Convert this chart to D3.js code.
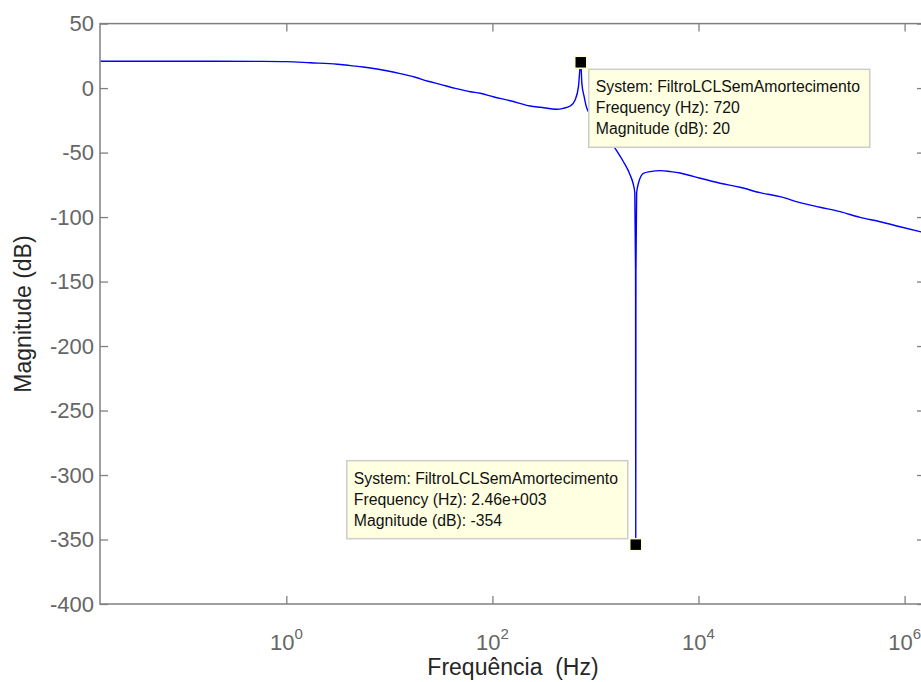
<!DOCTYPE html>
<html>
<head>
<meta charset="utf-8">
<script src="https://cdn.jsdelivr.net/npm/d3@7/dist/d3.min.js"></script>
<style>
  html, body { margin: 0; padding: 0; background: #ffffff; }
  svg { display: block; }
  text { font-family: "Liberation Sans", Arial, sans-serif; }
</style>
</head>
<body>
<svg id="chart" width="921" height="682"></svg>
<script>
// ---- data ----
const freqHz = [0.0157, 0.05, 0.2, 0.6, 1.0, 1.71, 3.12, 4.18, 5.58, 7.30, 9.13, 12.76, 17.8, 23.8, 31.2, 43.6, 60.9, 76.2, 101.8, 148.8, 232.6, 290.8, 425, 486, 568, 635, 684, 720, 738, 777, 825, 1111, 1553, 1869, 2171, 2337, 2410, 2450, 2460, 2470, 2510, 2613, 2921, 3393, 4241, 5303, 6630, 8287, 10363, 16200, 25320, 39590, 61880, 96720, 151200, 236300, 369400, 577400, 902500, 1411000, 1780000];
const magDb = [20.8, 20.8, 20.8, 20.7, 20.5, 19.6, 18.5, 17.4, 16.4, 15.0, 13.6, 11.2, 8.4, 5.3, 2.9, -0.2, -2.8, -4.0, -6.7, -9.8, -13.9, -14.9, -16.4, -15.7, -13.9, -9.2, 1.1, 20, 3.7, -6.7, -15.7, -29.4, -46.7, -57.1, -67.4, -75.1, -81.3, -143, -354, -143, -81.3, -73.8, -66.1, -64.8, -64.0, -64.7, -65.8, -67.8, -69.9, -73.8, -76.9, -81.1, -84.2, -88.8, -92.4, -95.8, -100.2, -103.6, -107.5, -111.3, -113.2];
const yTicks = [50, 0, -50, -100, -150, -200, -250, -300, -350, -400];
const xTickExp = [0, 2, 4, 6];
const xDomain = [Math.pow(10, -1.808), Math.pow(10, 6.198)];
const yDomain = [-400, 50];
const dataTips = [
  { f: 720, m: 20, lines: ["System: FiltroLCLSemAmortecimento", "Frequency (Hz): 720", "Magnitude (dB): 20"], box: "right" },
  { f: 2460, m: -354, lines: ["System: FiltroLCLSemAmortecimento", "Frequency (Hz): 2.46e+003", "Magnitude (dB): -354"], box: "left" }
];
const xLabel = "Frequência  (Hz)";
const yLabel = "Magnitude (dB)";

// ---- layout ----
const L = 100, R = 925, T = 23.6, B = 604;
const axisColor = "#808080";
const svg = d3.select("#chart");

const x = d3.scaleLog().domain(xDomain).range([L, R]);
const y = d3.scaleLinear().domain(yDomain).range([B, T]);

svg.append("defs").append("clipPath").attr("id", "plotclip")
  .append("rect").attr("x", L).attr("y", T).attr("width", R - L).attr("height", B - T);

// curve
const data = freqHz.map((f, i) => ({ f, m: magDb[i] }));
svg.append("path")
  .datum(data)
  .attr("clip-path", "url(#plotclip)")
  .attr("fill", "none")
  .attr("stroke", "#0000ff")
  .attr("stroke-width", 1.4)
  .attr("d", d3.line().x(d => x(d.f)).y(d => y(d.m)).curve(d3.curveMonotoneX));

// axes
const tickVals = xTickExp.map(e => Math.pow(10, e));
const styleAxis = g => {
  g.select(".domain").remove();
  g.selectAll(".tick line").attr("stroke", axisColor).attr("stroke-width", 1.3);
};
svg.append("g").attr("transform", `translate(${L},0)`)
  .call(d3.axisLeft(y).tickValues(yTicks).tickSizeInner(-8).tickSizeOuter(0).tickPadding(6)
    .tickFormat(d => String(d)))
  .call(styleAxis)
  .call(g => g.selectAll(".tick text").attr("fill", "#666666").attr("font-size", 22)
    .attr("font-family", "'Liberation Sans', Arial, sans-serif"));
svg.append("g").attr("transform", `translate(${R},0)`)
  .call(d3.axisRight(y).tickValues(yTicks).tickSizeInner(-8).tickSizeOuter(0).tickFormat(() => ""))
  .call(styleAxis);
svg.append("g").attr("transform", `translate(0,${B})`)
  .call(d3.axisBottom(x).tickValues(tickVals).tickSizeInner(-8).tickSizeOuter(0).tickFormat(() => ""))
  .call(styleAxis);
svg.append("g").attr("transform", `translate(0,${T})`)
  .call(d3.axisTop(x).tickValues(tickVals).tickSizeInner(-8).tickSizeOuter(0).tickFormat(() => ""))
  .call(styleAxis);

// x tick labels with superscripts
xTickExp.forEach(e => {
  const t = svg.append("text")
    .attr("x", x(Math.pow(10, e)))
    .attr("y", 650)
    .attr("text-anchor", "middle")
    .attr("fill", "#666666")
    .attr("font-size", 22);
  t.append("tspan").text("10");
  t.append("tspan").attr("font-size", 15).attr("dy", -11).text(String(e));
});

// frame
svg.append("rect").attr("x", L).attr("y", T).attr("width", R - L).attr("height", B - T)
  .attr("fill", "none").attr("stroke", axisColor).attr("stroke-width", 1.5);

// axis labels
svg.append("text").attr("x", 513).attr("y", 675).attr("text-anchor", "middle")
  .attr("fill", "#262626").attr("font-size", 23).attr("xml:space", "preserve")
  .style("white-space", "pre").text(xLabel);
svg.append("text").attr("transform", "translate(31,314) rotate(-90)").attr("text-anchor", "middle")
  .attr("fill", "#262626").attr("font-size", 23).text(yLabel);

// data tips
const boxW = 281, boxH = 78;
dataTips.forEach(tip => {
  const px = x(tip.f), py = y(tip.m);
  let bx, by;
  if (tip.box === "right") { bx = px + 8; by = py + 7; }
  else { bx = px - 8 - boxW; by = py - 6 - boxH; }
  const g = svg.append("g");
  g.append("rect").attr("x", bx).attr("y", by).attr("width", boxW).attr("height", boxH)
    .attr("fill", "#ffffe1").attr("stroke", "#cdcdcd").attr("stroke-width", 1.5);
  tip.lines.forEach((ln, i) => {
    g.append("text").attr("x", bx + 7).attr("y", by + 23 + i * 21)
      .attr("fill", "#111111").attr("font-size", 15.8).text(ln);
  });
  svg.append("rect").attr("x", px - 6).attr("y", py - 6).attr("width", 12).attr("height", 12)
    .attr("fill", "#000000").attr("stroke", "#ffffd4").attr("stroke-width", 1.5);
});
</script>
</body>
</html>
